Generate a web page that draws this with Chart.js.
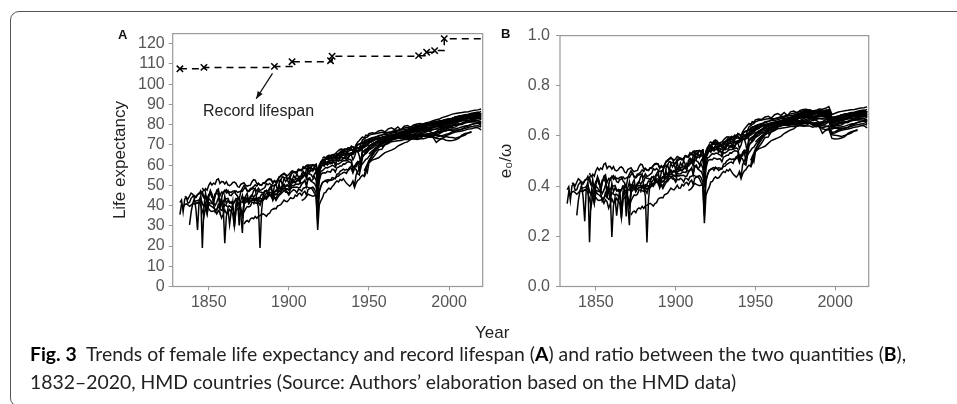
<!DOCTYPE html>
<html>
<head>
<meta charset="utf-8">
<script src="https://cdn.jsdelivr.net/npm/chart.js@4.4.0/dist/chart.umd.min.js"></script>
<style>
  html, body { margin: 0; padding: 0; background: #fff; }
  body { width: 957px; height: 404px; position: relative; overflow: hidden; font-family: 'Liberation Sans', Arial, sans-serif; }
  .frame { position: absolute; left: 10px; top: 11px; width: 1000px; height: 396px; border: 1.4px solid #555; border-radius: 9px; box-sizing: border-box; }
  canvas { position: absolute; }
  #chartA { left: 100px; top: 20px; }
  #chartB { left: 480px; top: 20px; }
  .panel { position: absolute; font-weight: bold; font-size: 13px; color: #111; }
  .xtitle { position: absolute; left: 475px; top: 323px; font-size: 17px; color: #222; }
  .cap { position: absolute; left: 30px; white-space: nowrap; font-family: Lato, 'Open Sans', sans-serif; font-size: 16px; color: #222; line-height: 20px; }
  .cap b { color: #000; }
</style>
</head>
<body>
<div class="frame"></div>
<canvas id="chartA" width="390" height="310"></canvas>
<canvas id="chartB" width="400" height="310"></canvas>
<div class="panel" style="left:118px; top:27px">A</div>
<div class="panel" style="left:501px; top:26px">B</div>
<div class="xtitle">Year</div>
<div class="cap" id="cap1" style="top:344px"><b>Fig. 3</b>&nbsp; Trends of female life expectancy and record lifespan (<b>A</b>) and ratio between the two quantities (<b>B</b>),</div>
<div class="cap" id="cap2" style="top:372px">1832–2020, HMD countries (Source: Authors’ elaboration based on the HMD data)</div>
<script>
// axis setup
const xTicks = [1850, 1900, 1950, 2000]
const yTicksA = [0, 10, 20, 30, 40, 50, 60, 70, 80, 90, 100, 110, 120]
const yTicksB = [0, 0.2, 0.4, 0.6, 0.8, 1.0]

// record lifespan (last point only carries the line to 2020)
const recordYears = [1832, 1847, 1891, 1902, 1926, 1927, 1981, 1986, 1991, 1997, 2020]
const recordAges = [107.6, 108.3, 108.8, 111.1, 111.6, 113.8, 114.1, 115.8, 116.6, 122.5, 122.5]

// female e0 by country: *Early = yearly values ending in 1949, *Late = every 2nd year from 1950 (or given start)
const sweEarly = [
  41.5, 42.8, 36.9, 43.2, 44.0, 41.2, 41.5, 43.6,
  44.5, 45.0, 44.2, 45.6, 45.9, 47.3, 45.1, 43.8, 44.9, 43.2,
  45.5, 46.0, 44.0, 43.7, 45.9, 46.2, 45.3, 40.8, 43.6, 46.8,
  47.2, 47.9, 46.4, 46.8, 46.5, 47.1, 47.3, 45.6, 44.6, 42.9,
  46.9, 48.5, 49.9, 48.7, 47.5, 46.9, 47.7, 48.8, 49.3, 50.3,
  49.6, 50.9, 50.2, 50.1, 51.2, 50.9, 52.3, 53.0, 53.2, 52.6,
  51.4, 52.4, 51.7, 52.6, 53.9, 54.9, 55.3, 55.5, 55.4, 53.1,
  53.6, 55.2, 56.6, 56.9, 56.5, 56.1, 57.8, 57.8, 57.2, 58.9,
  59.0, 59.8, 60.1, 59.6, 59.4, 59.8, 60.0, 60.4, 53.0, 58.6,
  60.7, 62.1, 62.3, 63.4, 63.0, 63.5, 63.9, 63.6, 63.6, 63.4,
  64.2, 64.7, 64.8, 65.5, 65.6, 65.7, 65.5, 66.8, 67.2, 67.4,
  67.4, 68.2, 69.9, 70.2, 70.5, 70.8, 71.3, 71.5, 72.1, 72.4]
const sweLate = [72.4, 73.4, 73.6, 74.7, 74.9, 75.5, 76.1, 76.5, 77.1, 77.3, 77.6, 78.3, 78.6, 78.9, 79.4, 79.7, 80.0, 80.4,
  80.8, 80.8, 81.3, 81.5, 81.9, 82.0, 82.2, 82.5, 82.7, 83.0, 83.1, 83.4, 83.5, 83.6, 83.9, 84.0, 84.0, 84.3]

const fraEarly = [
  35.5, 40.6, 39.2, 40.5, 40.8, 40.3, 39.6, 40.2,
  41.0, 40.8, 41.2, 41.3, 41.4, 42.1, 40.6, 39.9, 41.5, 36.1,
  41.6, 41.2, 41.0, 40.6, 36.8, 37.8, 40.6, 39.7, 40.9, 37.5,
  44.6, 40.9, 42.6, 41.2, 41.9, 40.6, 41.6, 42.9, 41.1, 41.7,
  35.5, 26.5, 43.5, 42.3, 44.2, 42.7, 43.5, 43.6, 43.4, 43.2,
  42.5, 43.3, 43.5, 43.3, 43.0, 44.0, 43.6, 44.6, 45.0, 45.3,
  42.5, 44.3, 43.6, 45.2, 45.6, 46.8, 47.9, 47.7, 46.6, 46.7,
  45.9, 48.2, 48.9, 49.2, 49.1, 49.2, 48.7, 48.9, 50.6, 51.4,
  52.6, 49.4, 53.3, 52.9, 52.1, 53.0, 54.2, 52.5, 44.8, 52.2,
  55.3, 56.1, 56.2, 56.1, 56.9, 56.7, 56.5, 57.9, 57.8, 56.6,
  58.7, 59.0, 59.5, 59.5, 60.6, 60.5, 61.2, 61.6, 61.5, 61.1,
  57.0, 58.7, 60.1, 61.1, 56.8, 63.1, 66.3, 67.0, 67.6, 67.5]
const fraLate = [69.2, 70.5, 71.4, 72.5, 73.0, 73.6, 73.9, 74.6, 75.0, 75.2, 75.9, 76.2, 76.8, 77.2, 77.8, 78.4, 78.9, 79.4,
  79.8, 80.5, 80.9, 81.3, 81.8, 82.0, 82.4, 82.8, 83.1, 83.8, 84.2, 84.4, 84.7, 84.9, 85.3, 85.4, 85.5, 85.2]

const dnkEarly = [
  44.5, 44.0, 43.2, 44.7, 46.2,
  45.6, 43.8, 44.0, 45.2, 46.1, 45.8, 46.8, 44.3, 44.7, 42.6,
  44.8, 46.7, 45.1, 42.0, 45.2, 46.5, 47.6, 44.9, 46.6, 45.9,
  47.5, 46.3, 47.4, 45.2, 44.9, 46.1, 46.4, 47.3, 46.5, 46.8,
  47.2, 47.0, 48.3, 49.0, 47.1, 47.3, 48.5, 48.1, 48.6, 48.0,
  47.2, 48.6, 47.5, 47.9, 48.4, 48.9, 50.8, 50.3, 50.9, 50.3,
  49.6, 50.2, 50.3, 51.9, 52.4, 52.8, 54.2, 53.9, 53.7, 53.5,
  53.2, 54.3, 56.1, 56.4, 56.0, 56.8, 57.9, 57.3, 57.5, 58.3,
  58.4, 58.1, 59.4, 60.1, 60.1, 60.2, 59.8, 60.3, 56.6, 59.9,
  61.7, 62.1, 61.8, 63.0, 63.0, 62.9, 63.1, 63.5, 63.7, 63.0,
  63.6, 63.7, 64.3, 64.8, 65.2, 64.6, 64.5, 65.3, 65.6, 66.1,
  66.2, 66.8, 67.9, 68.5, 68.6, 69.0, 69.6, 70.5, 71.0, 71.6]
const dnkLate = [72.2, 72.8, 73.1, 73.3, 73.6, 74.1, 74.3, 74.6, 75.0, 75.3, 75.7, 76.0, 76.2, 76.6, 77.1, 77.3, 77.4, 77.5,
  77.6, 77.7, 77.7, 77.9, 77.8, 78.1, 78.5, 79.0, 79.3, 79.8, 80.3, 80.7, 81.3, 81.9, 82.6, 82.9, 83.1, 83.6]

const islEarly = [
  30.5, 36.8,
  41.0, 43.5, 38.2, 28.0, 42.5, 44.8, 19.0, 39.6, 46.2, 40.5,
  44.1, 47.5, 45.7, 41.0, 44.8, 47.6, 48.2, 38.0, 43.4, 40.2,
  21.4, 34.7, 38.5, 30.6, 36.9, 42.0, 29.6, 38.5, 42.8, 30.2,
  42.6, 45.1, 39.8, 44.7, 46.0, 41.5, 43.9, 45.0, 47.3, 48.5,
  43.0, 39.0, 19.0, 37.5, 45.2, 46.8, 47.5, 44.9, 48.7, 49.8,
  45.3, 49.6, 50.7, 46.9, 51.4, 52.6, 50.1, 53.5, 51.9, 53.0,
  50.8, 53.6, 52.2, 54.8, 53.4, 55.7, 54.1, 51.3, 55.8, 56.9,
  55.4, 57.8, 58.4, 56.6, 58.9, 57.2, 59.6, 60.3, 56.7, 59.8,
  58.9, 60.4, 59.5, 61.8, 60.2, 62.6, 63.5, 62.7, 64.9, 63.8,
  64.7, 65.4, 63.9, 66.8, 65.9, 67.1, 66.4, 68.5, 67.8, 69.4,
  68.9, 68.1, 70.2, 71.4, 72.2, 73.1, 73.9, 73.4, 74.8, 74.5]
const islLate = [75.6, 76.0, 75.8, 76.9, 77.2, 76.4, 77.9, 78.4, 77.6, 78.9, 77.5, 79.2, 79.6, 78.8, 79.9, 80.3, 80.6, 80.0,
  80.8, 80.4, 81.0, 81.6, 80.9, 81.6, 81.9, 82.0, 82.9, 83.1, 83.2, 83.9, 84.1, 84.0, 84.3, 83.8, 84.5, 85.4]

const belEarly = [
  41.2, 40.8, 41.5, 41.6, 40.1, 37.5, 34.6, 39.0, 35.8,
  40.8, 40.0, 39.5, 38.9, 38.2, 38.0, 39.3, 38.7, 37.6, 37.9,
  40.5, 39.9, 39.4, 39.8, 39.0, 38.6, 33.8, 41.0, 40.2, 40.8,
  38.9, 35.2, 41.0, 41.4, 42.4, 40.9, 42.1, 42.8, 42.6, 42.5,
  42.7, 42.9, 43.8, 43.3, 43.5, 44.6, 43.7, 45.3, 45.1, 45.6,
  43.9, 45.3, 45.3, 46.3, 47.3, 46.6, 48.6, 48.6, 48.3, 48.0,
  47.6, 49.0, 49.8, 49.9, 50.4, 50.7, 50.5, 51.2, 51.3, 51.6,
  52.3, 50.4, 53.4, 53.8, 52.0, 51.4, 50.9, 49.3, 45.2, 54.1,
  57.0, 57.3, 58.1, 58.8, 58.6, 59.0, 59.4, 59.9, 59.6, 58.9,
  60.7, 60.6, 61.1, 61.7, 62.1, 62.1, 62.2, 62.5, 62.9, 62.4,
  58.6, 59.8, 59.3, 61.8, 61.7, 62.6, 66.4, 67.2, 67.9, 68.3]
const belLate = [69.6, 70.4, 71.1, 71.8, 72.5, 73.3, 73.8, 74.1, 74.2, 74.4, 74.6, 75.1, 75.6, 75.8, 76.4, 76.8, 77.1, 77.8,
  78.3, 78.9, 79.5, 79.9, 80.5, 80.8, 81.0, 80.9, 81.4, 81.9, 82.4, 82.5, 83.0, 83.1, 83.6, 83.9, 84.0, 82.9]

const gbrEarly = [
  42.1, 42.3, 42.5, 42.8, 43.6, 41.0, 39.5, 41.0, 38.4,
  43.5, 42.6, 41.5, 41.5, 40.1, 41.6, 43.8, 43.0, 40.6, 42.0,
  43.1, 43.4, 43.6, 41.7, 41.1, 41.6, 41.9, 43.5, 43.2, 42.7,
  41.8, 41.6, 44.0, 43.8, 42.6, 43.0, 44.6, 45.3, 44.1, 45.3,
  45.4, 47.3, 46.7, 46.6, 46.1, 47.3, 47.1, 47.4, 48.5, 47.8,
  46.4, 46.3, 47.4, 46.8, 50.0, 47.9, 49.3, 49.3, 48.5, 48.3,
  47.9, 49.8, 51.0, 52.4, 51.1, 52.4, 52.2, 53.4, 53.3, 54.1,
  55.4, 53.3, 56.2, 55.6, 55.2, 53.9, 55.6, 56.9, 50.8, 57.3,
  59.4, 60.2, 59.7, 61.1, 60.2, 60.6, 61.5, 60.8, 62.1, 59.8,
  62.8, 62.0, 62.4, 62.4, 63.7, 63.8, 63.3, 63.4, 64.9, 65.1,
  62.6, 64.2, 67.0, 66.6, 67.3, 68.1, 69.3, 68.9, 70.5, 70.5]
const gbrLate = [71.2, 72.1, 73.0, 73.4, 73.6, 73.9, 73.7, 74.4, 74.4, 74.9, 75.4, 75.3, 75.8, 76.1, 76.4, 76.6, 77.0, 77.5,
  77.7, 78.1, 78.6, 79.0, 79.3, 79.6, 79.9, 80.3, 80.7, 81.2, 81.7, 82.2, 82.7, 82.9, 83.2, 83.2, 83.3, 82.3]

const norEarly = [
  48.7, 47.3, 48.4, 47.6,
  50.0, 51.3, 50.2, 51.1, 50.6, 52.8, 53.2, 50.9, 51.9, 51.8,
  50.7, 51.8, 50.2, 49.9, 50.4, 51.4, 51.6, 51.0, 49.4, 49.0,
  50.5, 50.9, 51.3, 50.1, 49.6, 49.9, 50.1, 51.8, 52.8, 52.6,
  50.8, 51.0, 50.3, 50.1, 51.2, 51.4, 52.2, 52.7, 52.9, 53.0,
  50.9, 52.1, 51.5, 52.7, 54.3, 54.4, 55.5, 56.0, 55.2, 54.7,
  55.4, 56.4, 57.2, 56.6, 56.7, 56.5, 57.8, 57.6, 57.6, 59.2,
  58.6, 59.7, 59.2, 58.7, 59.4, 60.2, 59.4, 59.8, 54.8, 58.9,
  61.5, 62.8, 62.6, 63.0, 63.9, 64.1, 63.9, 64.8, 64.4, 64.4,
  65.5, 64.9, 66.0, 66.5, 66.8, 66.6, 66.4, 67.6, 67.7, 68.3,
  66.9, 68.3, 69.1, 68.7, 68.6, 70.5, 72.5, 72.9, 73.6, 73.9]
const norLate = [74.7, 75.3, 75.5, 75.9, 76.1, 76.1, 76.1, 76.3, 76.6, 76.8, 77.3, 77.6, 77.8, 78.2, 78.5, 79.2, 79.4, 79.5,
  79.6, 79.9, 79.8, 80.3, 80.9, 81.2, 81.4, 81.4, 81.6, 82.2, 82.7, 83.1, 83.3, 83.6, 84.0, 84.1, 84.3, 84.9]

const nldEarly = [
  38.5, 37.4, 37.1, 37.3, 37.4, 35.9, 37.5, 36.6, 33.8, 35.6,
  37.9, 36.2, 36.4, 38.1, 37.0, 35.7, 29.7, 37.6, 38.4, 39.1,
  37.4, 34.6, 36.9, 38.4, 39.5, 39.3, 39.8, 41.6, 41.6, 41.4,
  41.0, 42.9, 41.9, 42.8, 42.7, 43.6, 43.2, 45.1, 45.4, 45.5,
  44.6, 46.0, 45.5, 46.2, 47.5, 48.0, 49.3, 50.1, 49.3, 50.0,
  49.5, 51.4, 52.8, 52.7, 52.8, 53.4, 53.4, 54.6, 54.4, 55.9,
  56.3, 55.2, 58.3, 58.5, 58.5, 58.0, 57.8, 57.7, 51.8, 58.8,
  61.1, 60.9, 61.1, 63.6, 63.9, 63.8, 64.2, 65.1, 64.6, 63.8,
  65.4, 65.8, 66.4, 67.5, 67.0, 67.6, 67.9, 68.1, 68.5, 67.9,
  66.8, 67.2, 67.5, 67.0, 64.5, 60.5, 69.5, 71.9, 72.4, 72.6]
const nldLate = [72.9, 73.5, 73.9, 74.3, 74.8, 75.4, 75.3, 75.7, 76.1, 76.3, 76.5, 76.8, 77.2, 77.7, 78.6, 79.2, 79.6, 79.8,
  79.9, 80.2, 80.1, 80.3, 80.3, 80.4, 80.6, 80.6, 80.9, 81.4, 81.9, 82.3, 82.8, 83.0, 83.3, 83.2, 83.4, 82.9]

const itaEarly = [
  30.8, 32.1, 32.6, 31.9, 33.4, 33.9, 33.5, 34.6,
  33.7, 34.8, 35.0, 35.6, 35.9, 35.4, 34.7, 35.8, 36.2, 37.7,
  38.2, 38.6, 38.4, 39.8, 40.1, 40.5, 41.6, 42.7, 42.1, 41.9,
  42.8, 43.9, 43.5, 43.6, 45.2, 44.6, 45.8, 46.1, 45.0, 46.4,
  47.1, 45.2, 47.9, 48.4, 48.7, 47.6, 46.0, 44.8, 31.5, 46.6,
  49.4, 51.5, 51.8, 52.4, 52.7, 52.3, 52.5, 53.8, 53.7, 53.3,
  55.5, 55.7, 56.9, 57.4, 58.0, 57.5, 57.9, 57.3, 58.1, 59.6,
  59.5, 58.4, 57.8, 55.7, 55.1, 59.3, 63.8, 65.3, 65.6, 66.4]
const itaLate = [67.6, 68.4, 69.5, 70.1, 70.9, 71.9, 72.3, 72.9, 73.4, 73.7, 74.5, 75.0, 75.7, 76.1, 76.8, 77.5, 77.9, 78.8,
  79.2, 79.8, 80.2, 80.7, 81.2, 81.7, 82.1, 82.8, 83.2, 83.7, 84.0, 84.3, 84.6, 84.8, 85.0, 85.0, 85.2, 84.6]

const cheEarly = [
  41.8, 42.6, 43.0, 43.7,
  43.3, 43.9, 44.1, 45.6, 45.4, 45.0, 46.1, 46.6, 46.4, 46.4,
  45.5, 46.9, 47.6, 47.8, 48.6, 48.7, 50.0, 50.6, 49.7, 50.3,
  49.2, 50.9, 51.6, 51.4, 51.7, 52.1, 53.4, 53.1, 53.8, 54.8,
  55.6, 55.1, 56.9, 56.9, 57.2, 57.3, 58.6, 57.8, 50.5, 56.9,
  58.6, 60.5, 60.9, 61.4, 61.2, 61.6, 62.3, 62.3, 62.6, 62.2,
  63.1, 63.1, 63.9, 64.5, 64.9, 64.9, 65.4, 66.0, 65.8, 65.9,
  65.4, 66.6, 68.1, 68.3, 68.1, 69.4, 69.5, 69.6, 70.4, 71.0]
const cheLate = [71.4, 72.0, 72.8, 73.2, 73.6, 74.1, 74.4, 74.9, 75.2, 75.7, 76.1, 76.7, 77.3, 78.1, 78.6, 79.1, 79.7, 79.9,
  80.1, 80.6, 80.8, 81.0, 81.5, 81.8, 82.0, 82.6, 83.0, 83.8, 84.0, 84.2, 84.6, 84.8, 85.0, 85.3, 85.5, 85.2]

const finEarly = [
  40.5, 43.1,
  42.8, 41.5, 40.2, 42.6, 44.1, 43.7, 44.5, 45.2, 45.9, 44.3,
  43.2, 44.0, 42.5, 43.9, 45.1, 45.7, 46.6, 47.3, 47.9, 46.4,
  45.2, 46.5, 47.2, 47.9, 47.4, 46.3, 48.0, 47.8, 47.1, 48.6,
  48.8, 49.4, 49.0, 48.7, 48.8, 49.1, 48.1, 46.2, 38.4, 47.5,
  49.8, 51.3, 52.0, 52.3, 51.4, 52.8, 52.5, 52.6, 53.1, 53.6,
  54.4, 54.6, 55.4, 55.8, 56.3, 56.4, 55.9, 57.8, 58.9, 58.2,
  56.1, 58.3, 60.9, 61.7, 60.4, 62.3, 64.5, 64.9, 66.1, 67.3]
const finLate = [69.3, 70.2, 71.0, 71.5, 71.9, 72.5, 72.4, 72.9, 73.3, 73.9, 74.2, 75.1, 75.6, 76.5, 77.1, 77.6, 78.3, 78.7,
  78.6, 78.8, 79.0, 79.4, 80.1, 80.6, 81.1, 81.0, 81.6, 82.3, 82.9, 83.0, 83.2, 83.7, 84.1, 84.3, 84.5, 84.8]

const espEarly = [
  42.5, 42.9,
  43.5, 44.6, 45.7, 45.2, 44.9, 44.6, 44.9, 44.8, 28.0, 40.4,
  42.4, 43.9, 46.2, 46.5, 47.8, 48.6, 48.1, 49.3, 50.2, 51.4,
  52.2, 51.7, 52.9, 52.4, 53.3, 52.1, 51.0, 50.3, 49.6, 50.5,
  52.2, 50.0, 55.3, 56.9, 58.3, 59.6, 60.7, 61.7, 62.8, 63.2]
const espLate = [64.3, 66.2, 68.4, 69.4, 70.6, 71.6, 72.5, 73.2, 73.7, 74.4, 74.8, 75.6, 76.4, 77.3, 77.9, 78.5, 79.2, 79.6,
  80.2, 80.4, 80.6, 81.2, 81.7, 82.1, 82.5, 82.9, 83.1, 83.8, 84.1, 84.5, 84.9, 85.1, 85.6, 85.9, 86.2, 85.1]

const usaEarly = [63.3, 63.2, 63.4, 62.6, 63.8, 65.1, 65.6, 65.6, 66.4, 67.0, 66.6, 67.0, 67.3, 68.3, 68.7, 69.2, 69.9]
const usaLate = [71.1, 71.6, 72.7, 73.0, 73.0, 73.2, 73.5, 73.7, 73.8, 74.0, 74.8, 75.1, 75.9, 76.8, 77.3, 77.4, 77.9, 78.1,
  78.2, 78.3, 78.8, 78.9, 79.0, 79.0, 79.3, 79.4, 79.9, 80.1, 80.4, 80.6, 81.1, 81.2, 81.3, 81.3, 81.2, 80.2]

const canEarly = [60.6, 62.0, 60.5, 61.6, 62.2, 60.8, 61.7, 61.3, 60.7, 62.1, 62.1, 63.5, 64.0, 63.5, 64.0,
  64.2, 63.3, 65.4, 65.9, 65.4, 66.3, 66.9, 67.3, 67.8, 68.5, 68.7, 69.3, 69.4, 70.0]
const canLate = [70.9, 71.8, 72.8, 73.5, 73.8, 74.3, 74.6, 75.0, 75.2, 75.6, 76.1, 76.6, 77.0, 77.6, 78.4, 78.9, 79.2, 79.7,
  79.9, 80.3, 80.9, 81.1, 81.3, 81.3, 81.6, 81.8, 82.2, 82.5, 82.9, 83.3, 83.5, 83.7, 83.9, 84.1, 84.3, 83.9]

const ausEarly = [63.3, 64.0, 63.5, 64.5, 64.9, 64.7, 64.9, 65.2, 65.6, 66.5, 67.2, 67.8, 67.9, 67.6, 68.1,
  67.8, 68.6, 68.5, 68.9, 69.0, 68.3, 69.3, 69.9, 70.4, 70.8, 70.7, 71.3, 71.4, 71.5]
const ausLate = [71.8, 72.5, 72.9, 73.3, 73.4, 73.9, 73.8, 74.1, 74.1, 74.0, 74.2, 74.6, 75.2, 76.3, 77.4, 78.0, 78.4, 78.8,
  79.5, 79.8, 80.2, 80.4, 80.9, 81.2, 81.6, 82.1, 82.6, 83.0, 83.3, 83.7, 84.0, 84.3, 84.4, 84.6, 84.9, 85.5]

const prtEarly = [51.5, 48.9, 51.1, 52.4, 53.0, 54.2, 55.0, 54.6, 58.3, 56.5]
const prtLate = [61.1, 62.5, 63.0, 63.6, 64.9, 66.2, 66.8, 67.4, 68.1, 69.4, 70.2, 71.0, 71.5, 72.7, 73.4, 74.8, 75.4, 75.9,
  76.5, 77.1, 77.5, 77.9, 78.6, 78.7, 79.5, 80.2, 80.7, 81.1, 82.0, 82.4, 82.9, 83.0, 83.4, 83.5, 83.7, 83.8]

const jpnEarly = [54.0, 55.9, 59.7]
const jpnLate = [61.4, 63.3, 65.2, 67.6, 67.8, 70.2, 71.2, 72.3, 73.0, 74.1, 74.7, 75.9, 76.3, 77.4, 78.2, 78.8, 79.7, 80.2,
  81.0, 81.3, 81.9, 82.4, 82.8, 83.6, 84.0, 84.6, 85.2, 85.5, 85.8, 86.0, 86.3, 86.4, 86.8, 87.1, 87.3, 87.7]

const autEarly = [66.0, 66.9, 67.3]
const autLate = [68.2, 69.4, 70.1, 70.9, 71.3, 71.9, 72.0, 72.8, 72.9, 73.4, 73.5, 74.2, 74.6, 74.7, 75.3, 76.1, 76.8, 77.0,
  77.7, 78.5, 78.9, 79.3, 79.8, 80.2, 80.6, 81.1, 81.6, 82.1, 82.7, 82.8, 83.2, 83.5, 83.7, 84.0, 84.1, 83.7]

const bgrEarly = [57.2, 58.8, 60.5]
const bgrLate = [62.4, 64.6, 66.9, 68.7, 70.3, 71.2, 71.6, 72.4, 72.9, 73.1, 73.6, 73.9, 73.9, 73.7, 74.1, 73.9, 74.2, 74.6,
  74.6, 74.7, 74.8, 74.7, 74.6, 74.2, 74.6, 75.1, 75.8, 76.3, 76.6, 76.9, 77.3, 77.8, 78.0, 78.5, 78.5, 77.4]

const nzlEarly = [70.6, 71.1]
const nzlLate = [71.4, 71.8, 72.6, 73.2, 73.6, 73.7, 73.9, 73.9, 74.3, 74.7, 74.6, 75.0, 75.3, 75.8, 76.5, 76.9, 77.1, 77.5,
  77.6, 78.1, 78.6, 79.1, 79.6, 80.3, 80.5, 80.9, 81.3, 81.7, 82.1, 82.5, 82.9, 83.2, 83.4, 83.5, 83.8, 84.3]

const hunLate = [65.5, 67.1, 68.2, 68.9, 69.6, 70.1, 70.7, 71.6, 71.8, 72.0, 72.2, 72.6, 72.6, 72.7, 73.0, 72.7, 73.0, 73.0,
  73.5, 74.1, 73.7, 73.8, 74.2, 74.7, 75.2, 75.6, 76.5, 76.9, 77.4, 77.8, 78.1, 78.7, 79.0, 79.3, 79.4, 78.8]
const czeLate = [67.5, 69.6, 71.0, 71.9, 72.8, 73.5, 73.6, 73.5, 73.6, 73.4, 73.0, 73.3, 73.6, 73.9, 73.6, 74.0, 74.2, 74.5,
  74.7, 75.1, 75.5, 76.3, 76.6, 77.4, 77.9, 78.5, 78.5, 78.9, 79.9, 80.1, 80.9, 81.2, 82.0, 82.1, 82.2, 81.3]
const svkLate = [61.9, 65.3, 67.9, 69.8, 71.4, 72.7, 73.2, 73.3, 73.1, 73.4, 73.0, 73.6, 73.8, 74.3, 74.3, 74.4, 74.6, 75.1,
  75.2, 75.5, 75.4, 76.2, 76.5, 76.7, 77.0, 77.6, 77.8, 78.0, 78.3, 78.8, 79.3, 79.6, 80.1, 80.5, 80.7, 79.5]
const polLate = [68.9, 70.5, 71.4, 72.8, 73.2, 73.8, 74.1, 74.6, 74.9, 74.8, 75.1, 74.8, 75.2, 75.1, 75.4, 75.7,
  75.8, 76.6, 77.5, 77.9, 78.8, 79.0, 79.6, 79.8, 80.1, 80.6, 81.1, 81.3, 81.5, 81.8, 82.0, 80.7]
const rusLate = [72.3, 72.6, 72.9, 73.4, 73.6, 73.5, 73.6, 73.3, 73.1, 73.0, 73.0, 73.3, 74.3, 74.4, 74.3, 73.8, 71.2, 72.5,
  73.1, 72.3, 72.0, 72.1, 72.5, 73.2, 74.8, 75.6, 75.9, 76.5]
const ukrLate = [73.0, 73.5, 73.9, 74.2, 74.5, 74.3, 74.2, 74.0, 73.6, 73.6, 73.8, 74.1, 74.7, 75.1, 75.0, 74.2, 73.3, 72.9,
  73.4, 74.1, 73.8, 73.6, 73.3, 73.8, 74.3, 74.9, 76.0, 76.2]
const ltuLate = [73.5, 74.0, 74.5, 75.0, 75.6, 75.6, 75.4, 75.5, 75.3, 75.2, 75.3, 76.1, 76.5, 77.1, 76.8, 75.7, 74.9, 75.5,
  76.6, 77.0, 77.4, 77.2, 77.4, 77.3, 77.6, 78.9, 79.3, 80.1, 80.5, 80.9, 80.8]
const estLate = [72.3, 72.9, 73.3, 74.1, 74.4, 74.6, 74.0, 74.3, 74.1, 74.6, 74.9, 75.0, 75.1, 74.8, 73.7, 74.4, 75.7, 76.2,
  76.5, 77.7, 78.5, 79.4, 80.6, 81.4, 81.8, 81.9, 82.0, 82.6, 82.7, 83.0, 83.0]
const korLate = [81.4, 82.3, 83.2, 83.8, 84.1, 85.0, 85.4, 85.8, 86.5]

// [early yearly values (end 1949), late values every 2nd year, first late year]
const countries = [
  [sweEarly, sweLate, 1950], [fraEarly, fraLate, 1950], [dnkEarly, dnkLate, 1950], [islEarly, islLate, 1950],
  [belEarly, belLate, 1950], [gbrEarly, gbrLate, 1950], [norEarly, norLate, 1950], [nldEarly, nldLate, 1950],
  [itaEarly, itaLate, 1950], [cheEarly, cheLate, 1950], [finEarly, finLate, 1950], [espEarly, espLate, 1950],
  [usaEarly, usaLate, 1950], [canEarly, canLate, 1950], [ausEarly, ausLate, 1950], [prtEarly, prtLate, 1950],
  [jpnEarly, jpnLate, 1950], [autEarly, autLate, 1950], [bgrEarly, bgrLate, 1950], [nzlEarly, nzlLate, 1950],
  [[], hunLate, 1950], [[], czeLate, 1950], [[], svkLate, 1950], [[], polLate, 1958], [[], rusLate, 1960],
  [[], ukrLate, 1960], [[], ltuLate, 1960], [[], estLate, 1960], [[], korLate, 2004]
]

function toPoints (early, late, lateFrom) {
  const pts = []
  const first = 1950 - early.length
  early.forEach((v, i) => pts.push({ x: first + i, y: v }))
  late.forEach((v, i) => pts.push({ x: lateFrom + 2 * i, y: v }))
  return pts
}

// record in force in a given year (panel B divides e0 by it)
function recordAt (year) {
  let r = recordAges[0]
  recordYears.forEach((y, i) => { if (y <= year) r = recordAges[i] })
  return r
}

const seriesA = countries.map(c => toPoints(c[0], c[1], c[2]))
const seriesB = seriesA.map(pts => pts.map(p => ({ x: p.x, y: p.y / recordAt(p.x) })))

Chart.defaults.font.family = "'Liberation Sans', Arial, sans-serif"
Chart.defaults.color = '#555'

const boxPlugin = {
  id: 'box',
  afterDatasetsDraw (chart) {
    const { ctx, chartArea: a } = chart
    ctx.save()
    ctx.strokeStyle = '#999'
    ctx.lineWidth = 1.2
    ctx.strokeRect(a.left, a.top, a.right - a.left, a.bottom - a.top)
    ctx.restore()
  }
}

const noteA = {
  id: 'note',
  afterDatasetsDraw (chart) {
    const { ctx, scales: { x, y } } = chart
    const x0 = x.getPixelForValue(1889.8)
    const y0 = y.getPixelForValue(105.3)
    const x1 = x.getPixelForValue(1879.6)
    const y1 = y.getPixelForValue(92.8)
    const ang = Math.atan2(y1 - y0, x1 - x0)
    ctx.save()
    ctx.strokeStyle = '#111'
    ctx.fillStyle = '#111'
    ctx.lineWidth = 1.3
    ctx.beginPath()
    ctx.moveTo(x0, y0)
    ctx.lineTo(x1, y1)
    ctx.stroke()
    ctx.beginPath()
    ctx.moveTo(x1, y1)
    ctx.lineTo(x1 - 8 * Math.cos(ang - 0.38), y1 - 8 * Math.sin(ang - 0.38))
    ctx.lineTo(x1 - 8 * Math.cos(ang + 0.38), y1 - 8 * Math.sin(ang + 0.38))
    ctx.closePath()
    ctx.fill()
    ctx.font = "16px 'Liberation Sans', Arial, sans-serif"
    ctx.fillStyle = '#222'
    ctx.textBaseline = 'middle'
    ctx.fillText('Record lifespan', x.getPixelForValue(1846.4), y.getPixelForValue(86.6))
    ctx.restore()
  }
}

function lineSets (series) {
  return series.map(pts => ({
    data: pts,
    borderColor: '#000',
    borderWidth: 1.5,
    pointRadius: 0,
    fill: false,
    tension: 0
  }))
}

function axisOptions (cfg) {
  const grid = { drawOnChartArea: false, drawTicks: true, tickLength: 4, color: '#999', lineWidth: 1 }
  return {
    x: {
      type: 'linear',
      min: 1827.5,
      max: 2021,
      afterBuildTicks: s => { s.ticks = xTicks.map(v => ({ value: v })) },
      afterFit: s => { s.height = 43.5 },
      grid: grid,
      border: { display: false },
      ticks: { padding: 2, color: '#555', font: { size: 16 }, maxRotation: 0, autoSkip: false, callback: v => String(v) }
    },
    y: {
      type: 'linear',
      min: cfg.min,
      max: cfg.max,
      afterBuildTicks: s => { s.ticks = cfg.ticks.map(v => ({ value: v })) },
      afterFit: s => { s.width = cfg.width },
      grid: grid,
      border: { display: false },
      ticks: { padding: cfg.tickPad, color: '#555', font: { size: 16 }, autoSkip: false, callback: cfg.fmt },
      title: { display: true, text: cfg.title, color: '#222', font: { size: 17 }, padding: { top: cfg.titlePad, bottom: 0 } }
    }
  }
}

const recordSet = {
  data: recordYears.map((yr, i) => ({ x: yr, y: recordAges[i] })),
  borderColor: '#000',
  borderWidth: 1.5,
  borderDash: [7, 5],
  stepped: 'before',
  pointStyle: 'crossRot',
  pointRadius: recordYears.map((yr, i) => (i === recordYears.length - 1 ? 0 : 4.5)),
  pointBorderColor: '#000',
  pointBorderWidth: 1.5,
  fill: false
}

new Chart(document.getElementById('chartA'), {
  type: 'line',
  data: { datasets: lineSets(seriesA).concat([recordSet]) },
  options: {
    responsive: false,
    animation: false,
    events: [],
    parsing: false,
    layout: { padding: { left: 0, right: 7.3, top: 13.5, bottom: 0 } },
    plugins: { legend: { display: false }, tooltip: { enabled: false } },
    scales: axisOptions({ min: 0, max: 125, ticks: yTicksA, width: 72.7, tickPad: 4, titlePad: 9.8, title: 'Life expectancy', fmt: v => String(v) })
  },
  plugins: [boxPlugin, noteA]
})

new Chart(document.getElementById('chartB'), {
  type: 'line',
  data: { datasets: lineSets(seriesB) },
  options: {
    responsive: false,
    animation: false,
    events: [],
    parsing: false,
    layout: { padding: { left: 0, right: 11.3, top: 13.5, bottom: 0 } },
    plugins: { legend: { display: false }, tooltip: { enabled: false } },
    scales: axisOptions({ min: 0, max: 1, ticks: yTicksB, width: 80, tickPad: 6, titlePad: 16, title: 'e₀/ω', fmt: v => v.toFixed(1) })
  },
  plugins: [boxPlugin]
})

// fit caption line 1 to the width it takes in the figure
const cap1 = document.getElementById('cap1')
const fs = 16 * 877 / cap1.getBoundingClientRect().width
document.querySelectorAll('.cap').forEach(el => { el.style.fontSize = fs + 'px' })
</script>
</body>
</html>
